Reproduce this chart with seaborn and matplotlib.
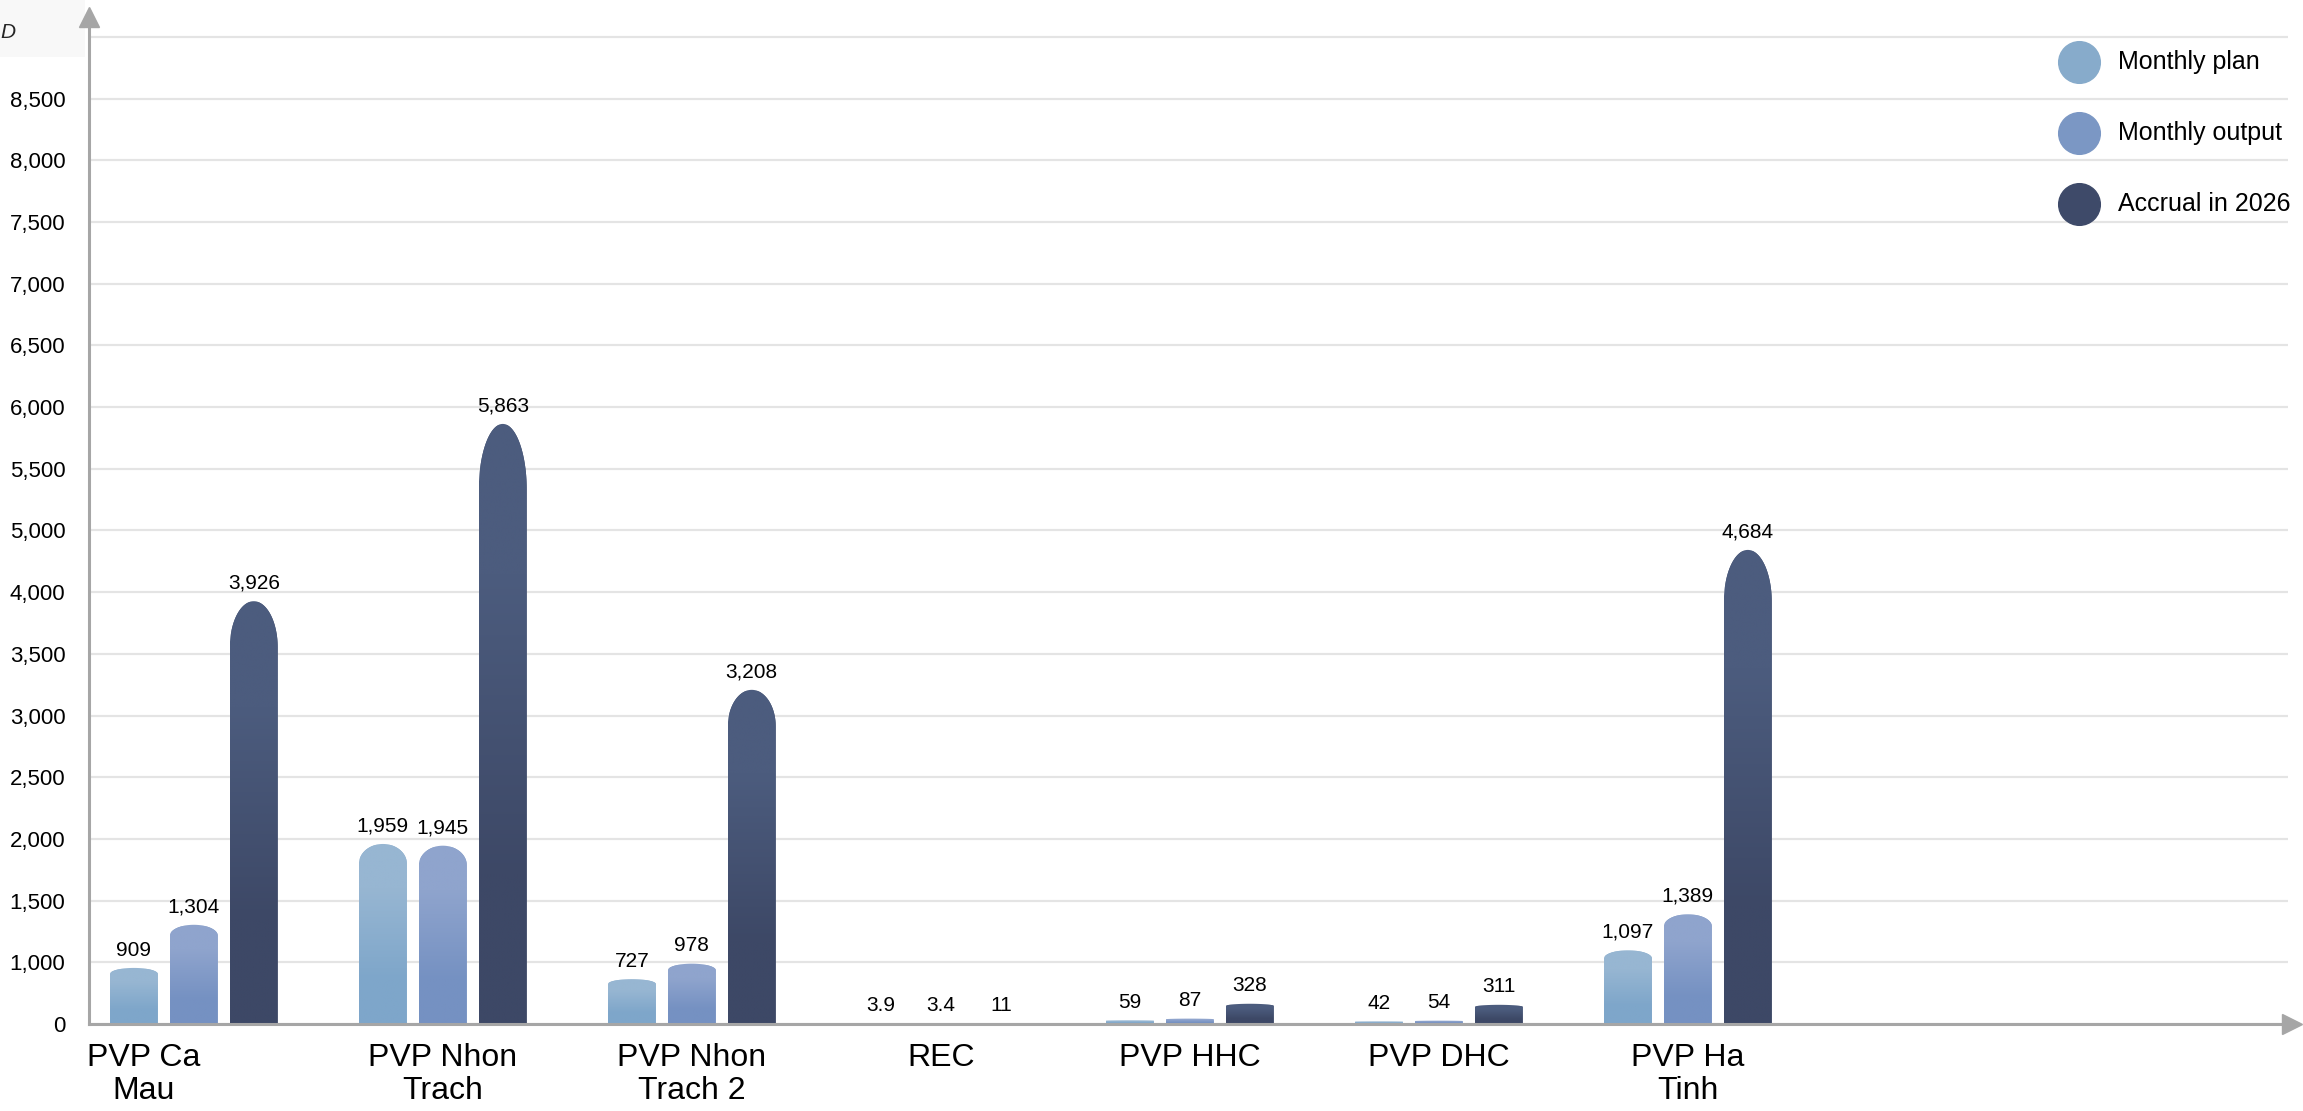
import numpy as np
import pandas as pd
import matplotlib
matplotlib.use("Agg")
import matplotlib.pyplot as plt
import matplotlib.transforms as mtransforms
from matplotlib.path import Path
from matplotlib.patches import PathPatch, Rectangle
from matplotlib.lines import Line2D
import seaborn as sns

# ---------------- data ----------------
companies = ["PVP Ca\nMau", "PVP Nhon\nTrach", "PVP Nhon\nTrach 2", "REC",
             "PVP HHC", "PVP DHC", "PVP Ha\nTinh"]
series = ["Monthly plan", "Monthly output", "Accrual in 2026"]
monthly_plan = [909, 1959, 727, 3.9, 59, 42, 1097]
monthly_output = [1304, 1945, 978, 3.4, 87, 54, 1389]
accrual_2026 = [3926, 5863, 3208, 11, 328, 311, 4684]
y_tick_values = [0, 1000, 1500, 2000, 2500, 3000, 3500, 4000,
                 5000, 5500, 6000, 6500, 7000, 7500, 8000, 8500]
unit_label = "D"

# ---------------- style ----------------
sns.set_theme(style="white")
plt.rcParams["font.family"] = ["Liberation Sans", "DejaVu Sans"]

legend_colors = ["#87abcb", "#7b97c4", "#3e4a69"]
bar_top = ["#97b6d2", "#8fa4cd", "#4c5c7e"]
bar_bottom = ["#7ea6ca", "#7591c2", "#3d4866"]
grid_color = "#e4e4e4"
axis_color = "#a6a6a6"

W, H = 2303, 1111
fig = plt.figure(figsize=(W / 100, H / 100), dpi=100)
fig.patch.set_facecolor("white")
ax = fig.add_axes([89 / W, 1 - 1024 / H, (2288 - 89) / W, (1024 - 22) / H])

# faint grey corner block (top-left)
fig.add_artist(Rectangle((0, 1 - 57 / H), 85 / W, 57 / H, transform=fig.transFigure,
                         facecolor="#f8f8f8", edgecolor="none", zorder=-5))

df = pd.DataFrame({
    "company": companies * 3,
    "series": np.repeat(series, len(companies)),
    "value": monthly_plan + monthly_output + accrual_2026,
})

sns.barplot(data=df, x="company", y="value", hue="series", order=companies,
            hue_order=series, palette=legend_colors, width=0.722, gap=0.2,
            saturation=1, errorbar=None, legend=False, ax=ax, zorder=2)

# broken-step value axis (0-1000 and 4000-5000 each take one grid step)
XP = np.array([-1000, 0, 1000, 4000, 5000, 20000], dtype=float)
FP = np.array([-1, 0, 1, 7, 8, 38], dtype=float)


def fwd(y):
    return np.interp(y, XP, FP)


def inv(t):
    return np.interp(t, FP, XP)


ax.set_yscale("function", functions=(fwd, inv))
ax.set_xlim(-0.421, 8.41)
ax.set_ylim(0, 9120)
ax.set_yticks(y_tick_values)
ax.set_yticklabels([f"{v:,}" for v in y_tick_values])
ax.yaxis.set_minor_locator(matplotlib.ticker.NullLocator())
ax.yaxis.grid(True, color=grid_color, lw=1.6, zorder=0)
ax.axhline(9000, color=grid_color, lw=1.6, zorder=0)
ax.set_axisbelow(True)
ax.set_xlabel("")
ax.set_ylabel("")

for s in ["top", "right"]:
    ax.spines[s].set_visible(False)
for s in ["left", "bottom"]:
    ax.spines[s].set_color(axis_color)
    ax.spines[s].set_linewidth(2.2)
    ax.spines[s].set_zorder(3)

ax.tick_params(axis="y", length=0, pad=17, labelsize=16, labelcolor="black")
ax.tick_params(axis="x", length=0, pad=14, labelsize=23, labelcolor="black")
for i, lbl in enumerate(ax.get_xticklabels()):
    lbl.set_multialignment("center")
    lbl.set_linespacing(1.12)
    if i == 0:
        lbl.set_transform(lbl.get_transform() +
                          mtransforms.ScaledTranslation(-0.5, 0, fig.dpi_scale_trans))

# rounded caps + vertical gradient on each seaborn bar
to_axes = ax.transAxes.inverted()
t = np.linspace(0, np.pi, 80)
for si, cont in enumerate(ax.containers):
    grad = np.array([matplotlib.colors.to_rgb(bar_bottom[si]),
                     matplotlib.colors.to_rgb(bar_top[si])]).reshape(2, 1, 3)
    for rect in cont:
        x0, w, h = rect.get_x(), rect.get_width(), rect.get_height()
        px0, py0 = ax.transData.transform((x0, 0))
        px1, py1 = ax.transData.transform((x0 + w, h))
        hp = py1 - py0
        b = 0.11 * hp
        cx, a = (px0 + px1) / 2, (px1 - px0) / 2
        arc = np.column_stack([cx + a * np.cos(t), py1 - b + b * np.sin(t)])
        verts = np.vstack([[px1, py0 - 4], arc, [px0, py0 - 4], [px1, py0 - 4]])
        verts_ax = to_axes.transform(verts)
        clip = PathPatch(Path(verts_ax), transform=ax.transAxes)
        rect.set_clip_path(clip)
        (ax0, ay0), (ax1, ay1) = to_axes.transform([[px0, py0], [px1, py1]])
        im = ax.imshow(grad, extent=(ax0, ax1, ay0, ay1), transform=ax.transAxes,
                       aspect="auto", origin="lower", interpolation="bilinear",
                       zorder=2.5)
        im.set_clip_path(clip)

ax.set_xlim(-0.421, 8.41)
ax.set_ylim(0, 9120)
ax.set_aspect("auto")

# value labels
for cont, vals in zip(ax.containers, [monthly_plan, monthly_output, accrual_2026]):
    labels = [f"{v:.1f}" if v < 10 else f"{v:,.0f}" for v in vals]
    ax.bar_label(cont, labels=labels, padding=6, fontsize=15, color="black", zorder=4)

# axis arrows
up = mtransforms.offset_copy(ax.transAxes, fig=fig, x=0, y=5, units="dots")
right = mtransforms.offset_copy(ax.transAxes, fig=fig, x=4, y=0, units="dots")
ax.plot([0], [1], marker="^", ms=15, color=axis_color, transform=up, clip_on=False, zorder=5)
ax.plot([1], [0], marker=">", ms=15, color=axis_color, transform=right, clip_on=False, zorder=5)

# unit label fragment
fig.text(0.0, 1 - 32 / H, unit_label, fontsize=15, style="italic", ha="left", va="center")

# legend (circle markers)
for i, (name, col) in enumerate(zip(series, legend_colors)):
    yy = 1 - (62 + 71 * i) / H
    fig.add_artist(Line2D([2079 / W], [yy], marker="o", ms=30, color=col,
                          linestyle="none", transform=fig.transFigure))
    fig.text(2118 / W, yy, name, fontsize=18, ha="left", va="center", color="black")

fig.savefig("out.png", dpi=100, facecolor="white")
